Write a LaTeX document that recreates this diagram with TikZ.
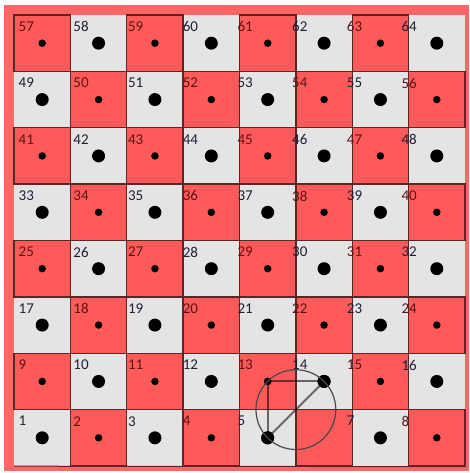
\documentclass[tikz,border=0pt]{standalone}
\usepackage{fontspec}
\setmainfont{Carlito}
\usetikzlibrary{calc}
\definecolor{cellred}{HTML}{FF5A5A}
\definecolor{framered}{HTML}{FF6666}
\definecolor{cellgrey}{HTML}{E4E4E4}
\definecolor{edgedark}{HTML}{5A2626}
\definecolor{labred}{HTML}{5A1414}
\definecolor{labgrey}{HTML}{1E1E36}
\definecolor{circlegrey}{HTML}{4A4A4A}
\begin{document}
\begin{tikzpicture}[x=1pt,y=-1pt,
  cellbox/.style={rectangle, inner sep=0pt, minimum width=56.375pt, minimum height=56.375pt},
  redcell/.style={cellbox, fill=cellred, draw=edgedark, line width=1.3pt},
  greycell/.style={cellbox, fill=cellgrey},
  bigdot/.style={circle, fill=black, inner sep=0pt, minimum size=13pt},
  smalldot/.style={circle, fill=black, inner sep=0pt, minimum size=7.5pt},
  lab/.style={anchor=north west, inner sep=0pt, font=\fontsize{15}{15}\selectfont},
  triline/.style={draw=black, line width=2pt, draw opacity=0.55},
  circline/.style={draw=circlegrey, line width=1.2pt}]
\useasboundingbox (0,0) rectangle (469,473);
\fill[white] (0,0) rectangle (469,473);
\fill[framered] (4,5) rectangle (469,471);
% grey cells
\foreach \n in {1,...,64} {
  \pgfmathtruncatemacro\cc{mod(\n-1,8)}
  \pgfmathtruncatemacro\rr{div(\n-1,8)}
  \pgfmathtruncatemacro\odd{mod(\cc+\rr,2)}
  \pgfmathsetmacro\cx{14+(\cc+0.5)*56.375}
  \pgfmathsetmacro\cy{466-(\rr+0.5)*56.375}
  \ifnum\odd=0
    \node[greycell] (c\n) at (\cx,\cy) {};
  \fi
}
% red cells
\foreach \n in {1,...,64} {
  \pgfmathtruncatemacro\cc{mod(\n-1,8)}
  \pgfmathtruncatemacro\rr{div(\n-1,8)}
  \pgfmathtruncatemacro\odd{mod(\cc+\rr,2)}
  \pgfmathsetmacro\cx{14+(\cc+0.5)*56.375}
  \pgfmathsetmacro\cy{466-(\rr+0.5)*56.375}
  \ifnum\odd=1
    \node[redcell] (c\n) at (\cx,\cy) {};
  \fi
}
\draw[edgedark, line width=1pt] (c1.south west) -- (c8.south east);
% dots and labels
\foreach \n in {1,...,64} {
  \pgfmathtruncatemacro\cc{mod(\n-1,8)}
  \pgfmathtruncatemacro\rr{div(\n-1,8)}
  \pgfmathtruncatemacro\odd{mod(\cc+\rr,2)}
  \pgfmathsetmacro\lx{18.5+\cc*54.7}
  \pgfmathsetmacro\ly{466-(\rr+1)*56.375+6.5}
  \ifnum\n=6 \else
    \ifnum\odd=1
      \node[smalldot] (d\n) at (c\n) {};
      \node[lab, text=labred] (l\n) at (\lx,\ly) {\n};
    \else
      \node[bigdot] (d\n) at (c\n) {};
      \node[lab, text=labgrey] (l\n) at (\lx,\ly) {\n};
    \fi
  \fi
}
% triangle and circumcircle
\draw[triline] (d13.center) -- (d14.center);
\draw[triline] (d14.center) -- (d5.center);
\draw[triline] (d5.center) -- (d13.center);
\node[smalldot] at (d13) {};
\node[bigdot] at (d14) {};
\node[bigdot] at (d5) {};
\node[circle, circline, inner sep=0pt, minimum size=79.8pt] (circ) at ($(d14)!0.5!(d5)$) {};
\end{tikzpicture}
\end{document}
